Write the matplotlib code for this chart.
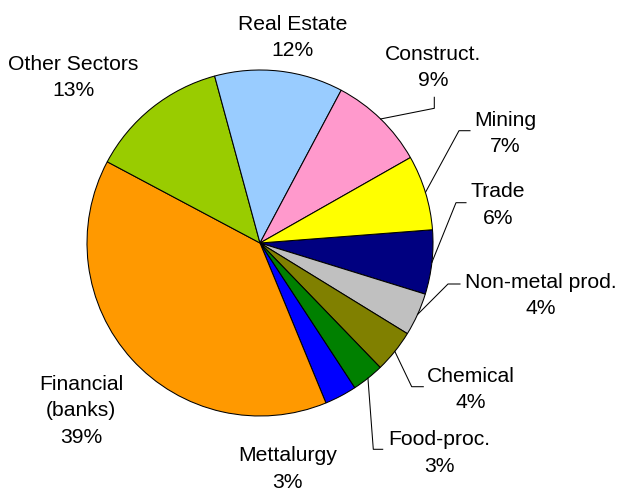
import numpy as np
import matplotlib.pyplot as plt

# sector shares, in drawing order (clockwise, starting at Trade)
sectors = ['Trade', 'Non-metal prod.', 'Chemical', 'Food-proc.', 'Mettalurgy',
           'Financial\n(banks)', 'Other Sectors', 'Real Estate', 'Construct.', 'Mining']
shares = [6, 4, 4, 3, 3, 39, 13, 12, 9, 7]
colors = ['#000080', '#C0C0C0', '#808000', '#008000', '#0000FF',
          '#FF9900', '#99CC00', '#99CCFF', '#FF99CC', '#FFFF00']

# label placement (pixel coords, y down): top-centre of text block,
# and for labels with leader lines the elbow + end of the line
label_pos = {
    'Trade': (498, 182),
    'Non-metal prod.': (541, 273),
    'Chemical': (471, 367),
    'Food-proc.': (439, 430),
    'Mettalurgy': (287.5, 446),
    'Financial\n(banks)': (81, 375),
    'Other Sectors': (73, 55),
    'Real Estate': (292.5, 15),
    'Construct.': (433.5, 45),
    'Mining': (505, 111),
}
leaders = {
    'Construct.': [(434.3, 108.3), (434.3, 97.3)],
    'Mining': [(459, 130.7), (470, 130.7)],
    'Trade': [(456, 202.7), (466, 202.7)],
    'Non-metal prod.': [(448, 284), (460, 284)],
    'Chemical': [(411.7, 386.7), (423.3, 386.7)],
    'Food-proc.': [(373.3, 449.3), (382.7, 449.3)],
}

W, H = 620, 492
cx, cy, R = 260, 243, 173

plt.rcParams['font.family'] = ['Liberation Sans', 'DejaVu Sans']

fig = plt.figure(figsize=(W / 100, H / 100), dpi=100)
ax = fig.add_axes([0, 0, 1, 1])

# y axis runs downward, so counterclock=True draws clockwise on screen
wedges, _ = ax.pie(shares, colors=colors, startangle=-4.4, counterclock=True,
                   center=(cx, cy), radius=R,
                   wedgeprops=dict(edgecolor='black', linewidth=0.75))
ax.set_xlim(0, W)
ax.set_ylim(H, 0)
ax.set_aspect('equal')
ax.axis('off')

for w, name, val in zip(wedges, sectors, shares):
    x, y = label_pos[name]
    ax.text(x, y, f'{name}\n{val}%', ha='center', va='top', fontsize=15.2,
            linespacing=1.5, color='black')
    if name in leaders:
        mid = np.deg2rad((w.theta1 + w.theta2) / 2)
        sx, sy = cx + R * np.cos(mid), cy + R * np.sin(mid)
        pts = [(sx, sy)] + leaders[name]
        ax.plot([p[0] for p in pts], [p[1] for p in pts], color='black',
                linewidth=0.75)

fig.savefig('out.png', dpi=100)
